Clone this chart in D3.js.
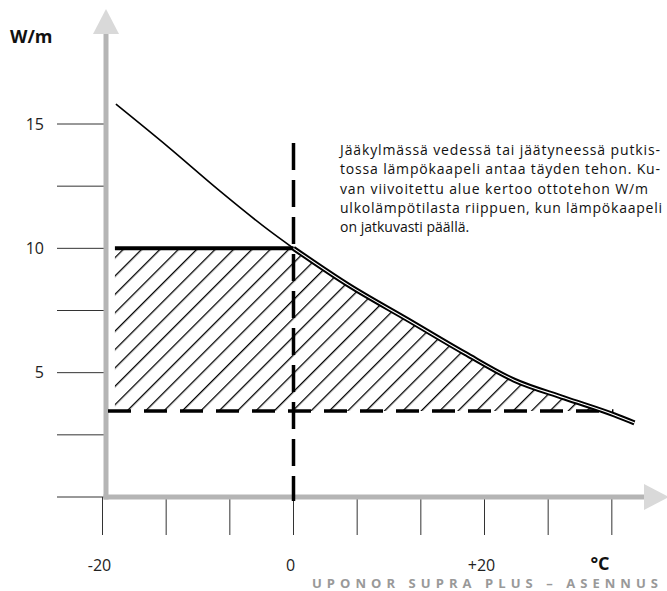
<!DOCTYPE html>
<html><head><meta charset="utf-8">
<script src="https://cdn.jsdelivr.net/npm/d3@7"></script>
<style>body{margin:0;background:#fff}svg{display:block}</style>
</head><body>
<script>
// ---- data ----
const curveTemp = [-18.6, -13.1, -7.85, -2.6, 0, 5.76, 12.0, 17.9, 23.1, 28.4, 33.6, 35.7];
const curvePower = [15.8, 14.07, 12.35, 10.73, 10.0, 8.52, 7.12, 5.79, 4.70, 3.98, 3.30, 2.98];
const capPower = 10;          // full power level below 0 °C
const minPower = 3.46;        // dashed baseline level
const hatchStartTemp = -18.7;
const dashEndTemp = 33.5;
const yTicks = [0, 2.5, 5, 7.5, 10, 12.5, 15];
const yTickLabels = [{v:15,t:"15"},{v:10,t:"10"},{v:5,t:"5"}];
const xTicks = [-20, -40/3, -20/3, 0, 20/3, 40/3, 20, 80/3, 100/3];
const xTickLabels = [{v:-20,t:"-20"},{v:0,t:"0"},{v:20,t:"+20"}];
const noteLines = [
  "Jääkylmässä vedessä tai jäätyneessä putkis-",
  "tossa lämpökaapeli antaa täyden tehon. Ku-",
  "van viivoitettu alue kertoo ottotehon W/m",
  "ulkolämpötilasta riippuen, kun lämpökaapeli",
  "on jatkuvasti päällä."
];
const noteWidths = [320, 320, 308, 322, null];
const yUnit = "W/m", xUnit = "°C";
const footer = "UPONOR SUPRA PLUS – ASENNUS";

// ---- chart ----
const W = 667, H = 591;
const svg = d3.select("body").append("svg").attr("width", W).attr("height", H);
svg.append("rect").attr("width", W).attr("height", H).attr("fill", "#fff");

const x = d3.scaleLinear().domain([-20, 20]).range([102.5, 484.5]);
const y = d3.scaleLinear().domain([0, 15]).range([497, 124]);
const font = "'Open Sans', 'Noto Sans', sans-serif";

const defs = svg.append("defs");
const pat = defs.append("pattern").attr("id", "hatch").attr("patternUnits", "userSpaceOnUse")
  .attr("width", 13).attr("height", 13).attr("patternTransform", "translate(4,0) rotate(45)");
pat.append("line").attr("x1", 0).attr("y1", -1).attr("x2", 0).attr("y2", 14)
  .attr("stroke", "#000").attr("stroke-width", 2.6);

const pts = curveTemp.map((t, i) => ({t, v: curvePower[i]}));
const lineGen = d3.line().x(d => x(d.t)).y(d => y(d.v)).curve(d3.curveMonotoneX);

// find crossing of curve with minPower
let crossT = 0;
for (let i = 0; i < pts.length - 1; i++) {
  if (pts[i].v >= minPower && pts[i+1].v < minPower) {
    crossT = pts[i].t + (pts[i].v - minPower) / (pts[i].v - pts[i+1].v) * (pts[i+1].t - pts[i].t);
  }
}
const poly = [{t: hatchStartTemp, v: capPower}, {t: 0, v: capPower}]
  .concat(pts.filter(p => p.t > 0 && p.t < crossT))
  .concat([{t: crossT, v: minPower}, {t: hatchStartTemp, v: minPower}]);
svg.append("path")
  .attr("d", d3.line().x(d => x(d.t)).y(d => y(d.v))(poly) + "Z")
  .attr("fill", "url(#hatch)");

// ticks
svg.append("g").selectAll("line").data(yTicks).join("line")
  .attr("x1", 57).attr("x2", 104).attr("y1", d => y(d)).attr("y2", d => y(d))
  .attr("stroke", "#333").attr("stroke-width", 1);
svg.append("g").selectAll("line").data(xTicks).join("line")
  .attr("x1", d => x(d)).attr("x2", d => x(d)).attr("y1", 497).attr("y2", 535)
  .attr("stroke", "#333").attr("stroke-width", 1);

// axes (gray with arrows)
const ax = x(-20) + 3.5;
svg.append("line").attr("x1", ax).attr("x2", ax).attr("y1", 32).attr("y2", 499.5)
  .attr("stroke", "#b5b5b5").attr("stroke-width", 5);
svg.append("line").attr("x1", ax - 2.5).attr("x2", 645).attr("y1", 497).attr("y2", 497)
  .attr("stroke", "#b5b5b5").attr("stroke-width", 5);
svg.append("path").attr("d", `M${ax},9 L${ax+13},34 L${ax-13},34 Z`).attr("fill", "#d9d9d9");
svg.append("path").attr("d", `M669,497 L644,484 L644,510 Z`).attr("fill", "#d9d9d9");

// dashed lines
svg.append("line").attr("x1", ax + 2).attr("x2", x(dashEndTemp)).attr("y1", y(minPower)).attr("y2", y(minPower))
  .attr("stroke", "#000").attr("stroke-width", 3.5).attr("stroke-dasharray", "23,13");
svg.append("line").attr("x1", x(0)).attr("x2", x(0)).attr("y1", 143).attr("y2", 501)
  .attr("stroke", "#000").attr("stroke-width", 3.5).attr("stroke-dasharray", "27,10");

// cap line
svg.append("line").attr("x1", x(hatchStartTemp)).attr("x2", x(0)).attr("y1", y(capPower)).attr("y2", y(capPower))
  .attr("stroke", "#000").attr("stroke-width", 4);

// curves
svg.append("path").attr("d", lineGen(pts.filter(p => p.t <= 0)))
  .attr("fill", "none").attr("stroke", "#000").attr("stroke-width", 1.6);
const right = pts.filter(p => p.t >= 0);
svg.append("path").attr("d", lineGen(right))
  .attr("fill", "none").attr("stroke", "#000").attr("stroke-width", 5);
svg.append("path").attr("d", lineGen(right))
  .attr("fill", "none").attr("stroke", "#fff").attr("stroke-width", 1.1);

// tick labels
svg.append("g").selectAll("text").data(yTickLabels).join("text")
  .attr("x", 44).attr("y", d => y(d.v)).attr("dy", "0.36em")
  .attr("text-anchor", "end").attr("font-family", font).attr("font-size", 16)
  .attr("fill", "#222").text(d => d.t);
svg.append("g").selectAll("text").data(xTickLabels).join("text")
  .attr("x", d => x(d.v) - 3).attr("y", 571)
  .attr("text-anchor", "middle").attr("font-family", font).attr("font-size", 16)
  .attr("fill", "#222").text(d => d.t);

svg.append("text").attr("x", 10).attr("y", 43).attr("font-family", font)
  .attr("font-size", 18).attr("font-weight", 700).attr("fill", "#111").text(yUnit);
svg.append("text").attr("x", 600).attr("y", 570).attr("text-anchor", "middle").attr("font-family", font)
  .attr("font-size", 18).attr("font-weight", 700).attr("fill", "#111").text(xUnit);

// note
const note = svg.append("g");
noteLines.forEach((ln, i) => {
  const t = note.append("text").attr("x", 340).attr("y", 155 + i * 19.3)
    .attr("font-family", font).attr("font-size", 14).attr("fill", "#111").text(ln);
  if (noteWidths[i]) t.attr("textLength", noteWidths[i]).attr("lengthAdjust", "spacing");
});

// footer
svg.append("text").attr("x", 312).attr("y", 588).attr("font-family", font)
  .attr("font-size", 13).attr("font-weight", 700).attr("fill", "#999")
  .attr("textLength", 346).attr("lengthAdjust", "spacing").text(footer);
</script>
</body></html>
